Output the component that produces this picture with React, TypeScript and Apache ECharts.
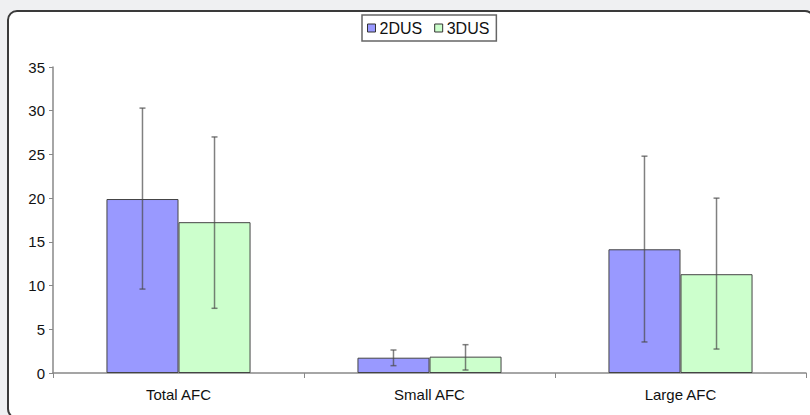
import React, { useEffect, useRef } from "react";
import * as echarts from "echarts";

const categories = ["Total AFC", "Small AFC", "Large AFC"];
const seriesNames = ["2DUS", "3DUS"];
const means2D = [19.9, 1.75, 14.15];
const means3D = [17.25, 1.87, 11.3];
const errLow2D = [9.6, 0.84, 3.55];
const errHigh2D = [30.3, 2.63, 24.8];
const errLow3D = [7.4, 0.34, 2.74];
const errHigh3D = [27.0, 3.24, 20.0];
const yTicks = [0, 5, 10, 15, 20, 25, 30, 35];

const BAR_FRAC = 0.287;
const FONT = "Liberation Sans, Arial, sans-serif";

function errSeries(name: string, lows: number[], highs: number[], sign: number) {
  return {
    type: "custom",
    name: name + " err",
    z: 5,
    silent: true,
    encode: { x: 0, y: [1, 2] },
    data: lows.map((l, i) => [i, l, highs[i]]),
    renderItem: (params: any, api: any) => {
      const idx = api.value(0);
      const lo = api.coord([idx, api.value(1)]);
      const hi = api.coord([idx, api.value(2)]);
      const band = api.size([1, 0])[0];
      const x = lo[0] + (sign * band * BAR_FRAC) / 2;
      const cap = 3;
      const style = { stroke: "#4a4a4a", lineWidth: 1.5, opacity: 0.7 };
      return {
        type: "group",
        children: [
          { type: "line", shape: { x1: x, y1: lo[1], x2: x, y2: hi[1] }, style },
          { type: "line", shape: { x1: x - cap, y1: lo[1], x2: x + cap, y2: lo[1] }, style },
          { type: "line", shape: { x1: x - cap, y1: hi[1], x2: x + cap, y2: hi[1] }, style },
        ],
      };
    },
  };
}

export default function App() {
  const ref = useRef<HTMLDivElement>(null);
  useEffect(() => {
    const chart = echarts.init(ref.current!, null, { renderer: "svg" });
    chart.setOption({
      animation: false,
      backgroundColor: "#eff0f2",
      textStyle: { fontFamily: FONT },
      graphic: [
        {
          type: "rect",
          z: -10,
          zlevel: 0,
          shape: { x: 8, y: 11, width: 806, height: 407, r: 9 },
          style: { fill: "#ffffff", stroke: "#3a3a3a", lineWidth: 2 },
        },
      ],
      legend: {
        data: seriesNames,
        left: 362,
        top: 15,
        itemWidth: 8,
        itemHeight: 8,
        itemGap: 12,
        icon: "rect",
        padding: [5, 7, 5, 5],
        borderColor: "#666",
        borderWidth: 1.5,
        backgroundColor: "#fff",
        textStyle: { fontSize: 16, color: "#111", fontFamily: FONT, padding: [0, 0, 0, -1] },
        itemStyle: { borderColor: "#333", borderWidth: 1 },
      },
      grid: { left: 53, right: 4, top: 67, bottom: 42, containLabel: false },
      xAxis: {
        type: "category",
        data: categories,
        axisLine: { lineStyle: { color: "#888", width: 1.5 } },
        axisTick: { show: true, alignWithLabel: false, length: 5, lineStyle: { color: "#888" } },
        axisLabel: { fontSize: 15, color: "#111", margin: 14, fontFamily: FONT },
      },
      yAxis: {
        type: "value",
        min: 0,
        max: 35,
        interval: 5,
        splitLine: { show: false },
        axisLine: { show: true, lineStyle: { color: "#888", width: 1.5 } },
        axisTick: { show: true, length: 4, lineStyle: { color: "#888" } },
        axisLabel: {
          fontSize: 15,
          color: "#111",
          margin: 8,
          fontFamily: FONT,
          formatter: (v: number) => (yTicks.includes(v) ? String(v) : ""),
        },
      },
      series: [
        {
          name: seriesNames[0],
          type: "bar",
          data: means2D,
          barWidth: (BAR_FRAC * 100).toFixed(1) + "%",
          barGap: "0%",
          itemStyle: { color: "#9999ff", borderColor: "#444", borderWidth: 1 },
        },
        {
          name: seriesNames[1],
          type: "bar",
          data: means3D,
          barWidth: (BAR_FRAC * 100).toFixed(1) + "%",
          barGap: "0%",
          itemStyle: { color: "#ccffcc", borderColor: "#444", borderWidth: 1 },
        },
        errSeries(seriesNames[0], errLow2D, errHigh2D, -1),
        errSeries(seriesNames[1], errLow3D, errHigh3D, 1),
      ],
    });
    return () => chart.dispose();
  }, []);
  return (
    <div
      ref={ref}
      style={{ position: "fixed", left: 0, top: 0, width: 810, height: 415 }}
    />
  );
}
